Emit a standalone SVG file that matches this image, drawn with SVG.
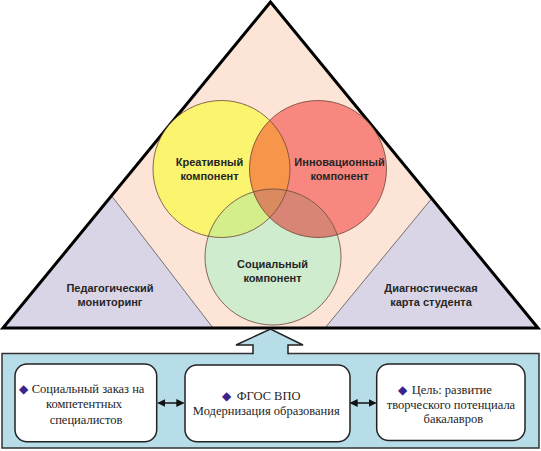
<svg xmlns="http://www.w3.org/2000/svg" width="541" height="451" viewBox="0 0 541 451">
<style>
.lbl{font-family:"Liberation Sans",Arial,sans-serif;font-weight:bold;font-size:11px;fill:#262626;text-anchor:middle}
.btx{font-family:"Liberation Serif","Times New Roman",serif;font-size:12.5px;fill:#1e1e1e}
.mid{text-anchor:middle}
.bul{font-family:"DejaVu Sans",sans-serif;font-size:12px;fill:#3b238f}
.cs{fill:none;stroke:#6e4636;stroke-opacity:0.8;stroke-width:1}
.box{fill:#ffffff;stroke:#222;stroke-width:1.5}
.lav{fill:#d9d5e6;stroke:#555;stroke-width:0.8}
.dbl{stroke:#111;stroke-width:1.5;fill:none;marker-start:url(#ah);marker-end:url(#ah)}
</style>
<defs>
<marker id="ah" viewBox="0 0 8 8" refX="7" refY="4" markerWidth="8" markerHeight="8" markerUnits="userSpaceOnUse" orient="auto-start-reverse">
<path d="M0,0 L8,4 L0,8 z" fill="#111"/>
</marker>
<clipPath id="cy"><circle cx="221.5" cy="169" r="68.5"/></clipPath>
<clipPath id="cr"><circle cx="318" cy="169" r="68.5"/></clipPath>
</defs>

<g id="pyramid">
<polygon points="270.5,2 3,328 538,328" fill="#fce4d6"/>
</g>
<g id="ped-monitoring">
<polygon class="lav" points="111.7,196 3,328 213,328"/>
<text class="lbl" x="110" y="292">Педагогический</text>
<text class="lbl" x="110" y="305.5">мониторинг</text>
</g>
<g id="diag-card">
<polygon class="lav" points="431.7,198.5 538,328 325,328"/>
<text class="lbl" x="431" y="292">Диагностическая</text>
<text class="lbl" x="431" y="305.5">карта студента</text>
</g>
<polygon points="270.5,2 3,328 538,328" fill="none" stroke="#000" stroke-width="3" stroke-linejoin="miter"/>

<g id="venn-fills">
<circle cx="221.5" cy="169" r="68.5" fill="#fbf46e"/>
<circle cx="318" cy="169" r="68.5" fill="#f8877f"/>
<circle cx="273" cy="257" r="68" fill="#cfeccf"/>
<circle cx="318" cy="169" r="68.5" fill="#f7954a" clip-path="url(#cy)"/>
<circle cx="273" cy="257" r="68" fill="#d3ee8a" clip-path="url(#cy)"/>
<circle cx="273" cy="257" r="68" fill="#d88576" clip-path="url(#cr)"/>
<g clip-path="url(#cy)"><circle cx="273" cy="257" r="68" fill="#d98a5e" clip-path="url(#cr)"/></g>
</g>
<g id="creative">
<circle class="cs" cx="221.5" cy="169" r="68.5"/>
<text class="lbl" x="209.5" y="165.5">Креативный</text>
<text class="lbl" x="209.5" y="180">компонент</text>
</g>
<g id="innovative">
<circle class="cs" cx="318" cy="169" r="68.5"/>
<text class="lbl" x="339.5" y="165.5">Инновационный</text>
<text class="lbl" x="339.5" y="180">компонент</text>
</g>
<g id="social">
<circle class="cs" cx="273" cy="257" r="68"/>
<text class="lbl" x="272.5" y="268">Социальный</text>
<text class="lbl" x="272.5" y="282">компонент</text>
</g>

<g id="base-panel">
<rect x="2" y="353.5" width="537" height="94.5" fill="#b6dde8" stroke="#333" stroke-width="1.5"/>
</g>

<g id="connectors">
<polygon points="253,356 253,345 236,345 270.5,329 303,345 288,345 288,356" fill="#b6dde8"/>
<polyline points="253,354.2 253,345 236,345 270.5,329 303,345 288,345 288,354.2" fill="none" stroke="#222" stroke-width="1.5" stroke-linejoin="miter"/>
<line class="dbl" x1="158.3" y1="403" x2="183.3" y2="403"/>
<line class="dbl" x1="350.7" y1="403" x2="375.5" y2="403"/>
</g>

<g id="social-order">
<rect class="box" x="15" y="364" width="141.7" height="77.7" rx="12"/>
<text class="bul" x="19" y="392.5">◆</text>
<text class="btx" x="31.7" y="392.5">Социальный заказ на</text>
<text class="btx mid" x="84" y="408">компетентных</text>
<text class="btx mid" x="86" y="423.5">специалистов</text>
</g>
<g id="fgos">
<rect class="box" x="185" y="365" width="165" height="76.7" rx="12"/>
<text class="bul" x="222" y="399.5">◆</text>
<text class="btx" x="236.7" y="399.5">ФГОС ВПО</text>
<text class="btx mid" x="266.3" y="415">Модернизация образования</text>
</g>
<g id="goal">
<rect class="box" x="376.7" y="364" width="148.3" height="76.5" rx="12"/>
<text class="bul" x="398" y="393.5">◆</text>
<text class="btx" x="411.7" y="393.5">Цель: развитие</text>
<text class="btx mid" x="451" y="408.5">творческого потенциала</text>
<text class="btx mid" x="453.3" y="423">бакалавров</text>
</g>
</svg>
